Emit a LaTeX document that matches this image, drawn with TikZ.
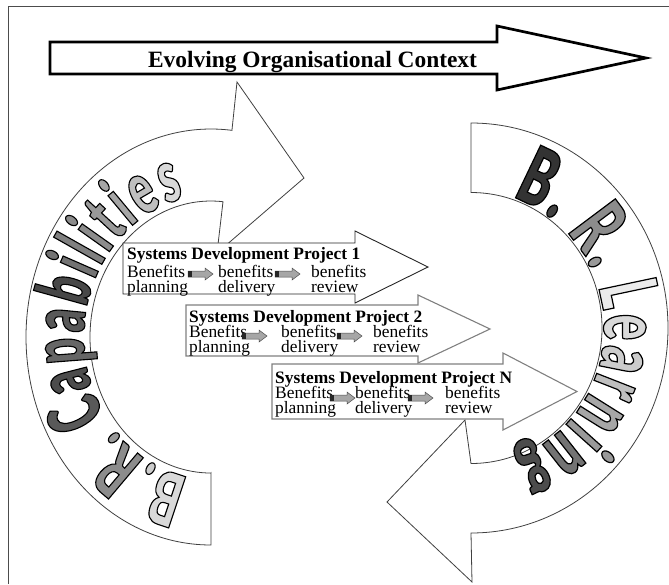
\documentclass[tikz,border=0pt]{standalone}
\usepackage{fontspec}
\setmainfont{Liberation Serif}
\newfontfamily\wafont{Lato Black}[FakeStretch=0.6, FakeBold=1.5]
\usetikzlibrary{decorations.text}
\newcommand\wl[2]{\wafont\fontsize{#1}{#1}\selectfont\color[gray]{#2}\special{pdf:literal direct 0 G}}
\newcommand\sarrow[3]{%
  \coordinate (#1) at (#2,#3);
  \filldraw[sarr] ([shift={(0,-3)}]#1) -- ([shift={(17,-3)}]#1) -- ([shift={(17,-6)}]#1) -- ([shift={(25,0)}]#1)
     -- ([shift={(17,6)}]#1) -- ([shift={(17,3)}]#1) -- ([shift={(0,3)}]#1) -- cycle;
  \fill[stail] ([shift={(0,-3)}]#1) rectangle ([shift={(4,3)}]#1);}
\begin{document}
\begin{tikzpicture}[x=1pt,y=-1pt,line join=miter,
  band/.style={draw=black!75, line width=0.8pt, fill=white},
  projbox/.style={draw=black!50, line width=1.1pt, fill=white},
  projboxa/.style={draw=black!85, line width=0.9pt, fill=white},
  ttl/.style={font=\bfseries\fontsize{17.4}{17.4}\selectfont, anchor=base west, inner sep=0pt},
  col/.style={font=\fontsize{17.4}{15}\selectfont, align=left, anchor=base west, inner sep=0pt},
  sarr/.style={draw=black!70, line width=0.5pt, fill=black!35},
  stail/.style={fill=black!85}]
\useasboundingbox (0,0) rectangle (669,584);
% frame
\draw[black!70, line width=1pt] (8,584) -- (8,6) -- (669,6);
% context arrow
\draw[line width=2.7pt, fill=white, miter limit=20] (50,42) -- (497,42) -- (497,26) -- (646,58) -- (497,90) -- (497,74) -- (50,74) -- cycle;
\node[font=\bfseries\fontsize{23.4}{23.4}\selectfont, anchor=base, inner sep=0pt] (ctx) at (312.5,67) {Evolving Organisational Context};
% left band
\draw[band] (211,473) -- (211,545) arc[start angle=90, end angle=276.5, x radius=185, y radius=208]
  -- (237,82) -- (304,178) -- (217,253) -- (223,201.7) arc[start angle=275.7, end angle=90, x radius=121, y radius=136] -- cycle;
\path[decorate, decoration={text along path, text align=fit to path,
  text={|\wl{74}{0.85}|B|\wl{74}{0.8}|.|\wl{74}{0.55}|R|\wl{74}{0.6}|. |\wl{74}{0.35}|C|\wl{74}{0.3}|a|\wl{74}{0.4}|p|\wl{74}{0.35}|a|\wl{74}{0.28}|b|\wl{74}{0.45}|i|\wl{74}{0.5}|l|\wl{74}{0.55}|i|\wl{74}{0.6}|t|\wl{74}{0.65}|i|\wl{74}{0.75}|e|\wl{74}{0.85}|s}}]
  (188.95,476.84) arc[start angle=100, end angle=258, x radius=127, y radius=142];
% right band
\draw[band] (471,192.5) -- (471,123) arc[start angle=-90, end angle=90, x radius=197, y radius=205]
  -- (472,582) -- (387,502) -- (465,420) -- (471,463.5) arc[start angle=90, end angle=-90, x radius=131, y radius=135.5] -- cycle;
\path[decorate, decoration={text along path, text align=fit to path,
  text={|\wl{80}{0.2}|B|\wl{80}{0.25}|. |\wl{80}{0.55}|R|\wl{80}{0.6}|. |\wl{80}{0.92}|L|\wl{80}{0.85}|e|\wl{80}{0.8}|a|\wl{80}{0.75}|r|\wl{80}{0.65}|n|\wl{80}{0.6}|i|\wl{80}{0.45}|n|\wl{80}{0.3}|g}}]
  (512.1,197.2) arc[start angle=-72, end angle=71, x radius=133, y radius=137.5];
% project 1
\draw[projboxa] (123,243) -- (355,243) -- (355,231) -- (428,267) -- (355,303) -- (355,294) -- (123,294) -- cycle;
\node[ttl] (p1t) at (127,259) {Systems Development Project 1};
\node[col] (p1a) at (127,292) {Benefits\\planning};
\node[col] (p1b) at (218,292) {benefits\\delivery};
\node[col] (p1c) at (311,292) {benefits\\review};
\sarrow{a11}{188}{274}
\sarrow{a12}{275}{274}
% project 2
\draw[projbox] (186,305) -- (418,305) -- (418,295) -- (490,329) -- (418,363) -- (418,356) -- (186,356) -- cycle;
\node[ttl] (p2t) at (189,322) {Systems Development Project 2};
\node[col] (p2a) at (189,352) {Benefits\\planning};
\node[col] (p2b) at (281,352) {benefits\\delivery};
\node[col] (p2c) at (373,352) {benefits\\review};
\sarrow{a21}{242}{336}
\sarrow{a22}{337}{336}
% project N
\draw[projbox] (272,364) -- (503,364) -- (503,353) -- (577,391.5) -- (503,430) -- (503,419) -- (272,419) -- cycle;
\node[ttl] (pnt) at (275,383) {Systems Development Project N};
\node[col] (pna) at (275,413) {Benefits\\planning};
\node[col] (pnb) at (355,413) {benefits\\delivery};
\node[col] (pnc) at (445,413) {benefits\\review};
\sarrow{an1}{330}{398}
\sarrow{an2}{408}{398}
\end{tikzpicture}
\end{document}
